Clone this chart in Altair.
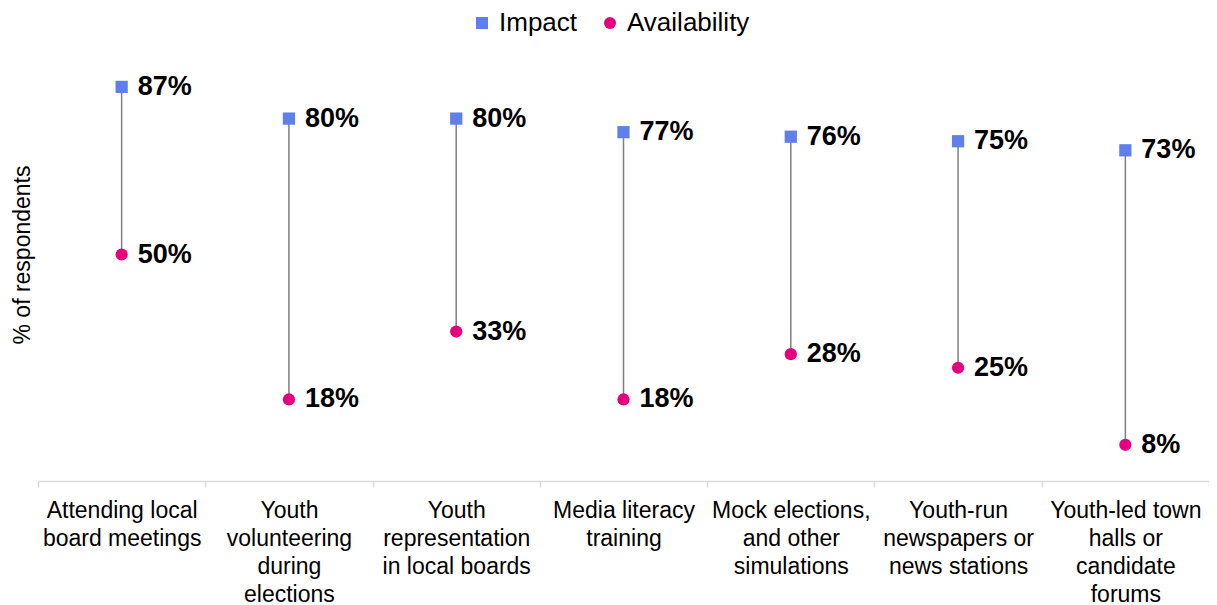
import altair as alt
import pandas as pd

categories = [
    "Attending local\nboard meetings",
    "Youth\nvolunteering\nduring\nelections",
    "Youth\nrepresentation\nin local boards",
    "Media literacy\ntraining",
    "Mock elections,\nand other\nsimulations",
    "Youth-run\nnewspapers or\nnews stations",
    "Youth-led town\nhalls or\ncandidate\nforums",
]
impact = [87, 80, 80, 77, 76, 75, 73]
availability = [50, 18, 33, 18, 28, 25, 8]
series = ["Impact", "Availability"]
colors = ["#5F7FEA", "#E5007E"]
shapes = ["square", "circle"]

wide = pd.DataFrame({"category": categories, "Impact": impact, "Availability": availability})
long = wide.melt(id_vars="category", value_vars=series, var_name="series", value_name="value")
long["label"] = long["value"].astype(str) + "%"

FONT = "Liberation Sans"
xscale = alt.Scale(type="band", paddingInner=0, paddingOuter=0)
yscale = alt.Scale(domain=[0, 100], nice=False)

x_axis = alt.Axis(
    title=None,
    labelExpr="split(datum.label, '\\n')",
    labelAngle=0,
    labelFontSize=23,
    labelLineHeight=28,
    labelColor="black",
    labelPadding=12,
    labelLimit=300,
    tickBand="extent",
    tickSize=6,
    tickColor="#D9D9D9",
    tickWidth=1.5,
    domainColor="#D9D9D9",
    domainWidth=1.5,
    grid=False,
)
y_axis = alt.Axis(
    title="% of respondents",
    labels=False,
    ticks=False,
    domain=False,
    grid=False,
    titleFontSize=23,
    titleFontWeight="normal",
    titleColor="black",
    titlePadding=4,
)

x_enc = alt.X("category:N", sort=categories, scale=xscale, axis=x_axis)

legend = alt.Legend(
    title=None,
    orient="none",
    legendX=431,
    legendY=-18,
    direction="horizontal",
    labelFontSize=26,
    labelColor="black",
    symbolSize=144,
    labelOffset=4,
    columnPadding=19,
    padding=0,
)

rules = alt.Chart(wide).mark_rule(color="#7F7F7F", strokeWidth=1.5).encode(
    x=x_enc,
    y=alt.Y("Impact:Q", scale=yscale, axis=y_axis),
    y2="Availability:Q",
)

points = alt.Chart(long).mark_point(filled=True, size=150, opacity=1).encode(
    x=x_enc,
    y=alt.Y("value:Q", scale=yscale, axis=y_axis),
    color=alt.Color("series:N", scale=alt.Scale(domain=series, range=colors), sort=series, legend=legend),
    shape=alt.Shape("series:N", scale=alt.Scale(domain=series, range=shapes), sort=series, legend=legend),
)

labels = alt.Chart(long).mark_text(
    align="left", baseline="middle", dx=16, fontSize=27, fontWeight="bold", color="black"
).encode(
    x=x_enc,
    y=alt.Y("value:Q", scale=yscale, axis=y_axis),
    text="label:N",
)

chart = (
    alt.layer(rules, points, labels)
    .properties(
        width=1171,
        height=453,
        padding={"left": 30, "top": 20, "right": 0, "bottom": 124},
        autosize=alt.AutoSizeParams(type="none"),
    )
    .configure(font=FONT)
    .configure_view(stroke="transparent", strokeWidth=0)
)

chart.save("out.html", embed_options={"renderer": "svg", "actions": False})
